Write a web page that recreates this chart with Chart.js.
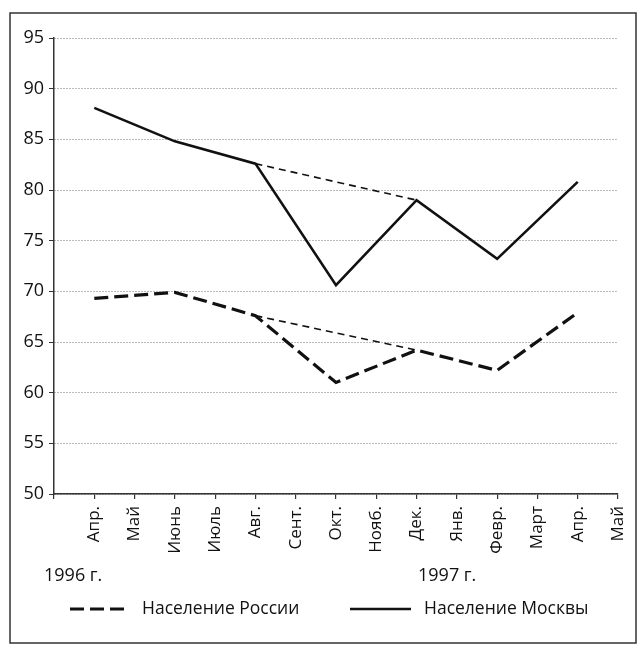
<!DOCTYPE html>
<html>
<head>
<meta charset="utf-8">
<script src="https://cdn.jsdelivr.net/npm/chart.js@4"></script>
<style>
  html, body { margin: 0; padding: 0; background: #fff; }
  #wrap { width: 638px; height: 649px; position: relative; }
</style>
</head>
<body>
<div id="wrap"><canvas id="chart" width="638" height="649"></canvas></div>
<script>
// месяцы по оси X (апрель 1996 - май 1997)
const months = ['Апр.', 'Май', 'Июнь', 'Июль', 'Авг.', 'Сент.', 'Окт.', 'Нояб.', 'Дек.', 'Янв.', 'Февр.', 'Март', 'Апр.', 'Май'];
// номера месяцев, где есть замеры
const pointMonths = [0, 2, 4, 6, 8, 10, 12];
const moscow = [88.1, 84.8, 82.6, 70.6, 79.0, 73.2, 80.8];
const russia = [69.3, 69.9, 67.6, 61.0, 64.2, 62.2, 67.9];
// тренд без провала: авг. -> дек.
const trendFrom = 2, trendTo = 4;
const yTicks = [50, 55, 60, 65, 70, 75, 80, 85, 90, 95];
const yearLabels = ['1996 г.', '1997 г.'];
const legendLabels = ['Население России', 'Население Москвы'];

const FONT = "'Open Sans', 'DejaVu Sans', sans-serif";
const INK = '#111';

const toPoints = vals => vals.map((v, i) => ({ x: pointMonths[i], y: v }));
const trend = vals => [trendFrom, trendTo].map(i => ({ x: pointMonths[i], y: vals[i] }));

const extras = {
  id: 'extras',
  afterDraw(chart) {
    const ctx = chart.ctx;
    ctx.save();
    // рамка
    ctx.strokeStyle = '#333';
    ctx.lineWidth = 1.5;
    ctx.strokeRect(10, 13, 626, 630);

    ctx.fillStyle = INK;
    ctx.font = '18px ' + FONT;
    ctx.textBaseline = 'alphabetic';
    ctx.textAlign = 'left';
    ctx.fillText(yearLabels[0], 44, 581);
    ctx.fillText(yearLabels[1], 418, 581);

    // легенда
    const ly = 609;
    ctx.font = '17.5px ' + FONT;
    const items = [
      { ds: chart.data.datasets[1], x0: 70, x1: 130, tx: 142, text: legendLabels[0] },
      { ds: chart.data.datasets[0], x0: 350, x1: 411, tx: 424, text: legendLabels[1] }
    ];
    items.forEach(it => {
      ctx.beginPath();
      ctx.strokeStyle = it.ds.borderColor;
      ctx.lineWidth = it.ds.borderWidth;
      ctx.setLineDash(it.ds.borderDash || []);
      ctx.moveTo(it.x0, ly);
      ctx.lineTo(it.x1, ly);
      ctx.stroke();
      ctx.setLineDash([]);
      ctx.textBaseline = 'middle';
      ctx.fillText(it.text, it.tx, ly);
    });
    ctx.restore();
  }
};

new Chart(document.getElementById('chart').getContext('2d'), {
  type: 'line',
  data: {
    datasets: [
      {
        label: legendLabels[1],
        data: toPoints(moscow),
        borderColor: INK,
        borderWidth: 2.6,
        borderDash: [],
        pointRadius: 0,
        tension: 0
      },
      {
        label: legendLabels[0],
        data: toPoints(russia),
        borderColor: INK,
        borderWidth: 3.2,
        borderDash: [14, 6],
        pointRadius: 0,
        tension: 0
      },
      {
        label: 'trend1',
        data: trend(moscow),
        borderColor: INK,
        borderWidth: 1.6,
        borderDash: [7, 5],
        pointRadius: 0
      },
      {
        label: 'trend2',
        data: trend(russia),
        borderColor: INK,
        borderWidth: 1.6,
        borderDash: [7, 5],
        pointRadius: 0
      }
    ]
  },
  options: {
    responsive: false,
    animation: false,
    layout: { padding: { left: 10, top: 38, right: 20, bottom: 85 } },
    plugins: {
      legend: { display: false },
      tooltip: { enabled: false }
    },
    scales: {
      x: {
        type: 'linear',
        min: -1,
        max: 13,
        afterBuildTicks: s => { s.ticks = months.map((m, i) => ({ value: i })).concat([{ value: -1 }]); },
        afterFit: s => { s.height = 70; },
        ticks: {
          autoSkip: false,
          maxRotation: 90,
          minRotation: 90,
          padding: 7,
          color: INK,
          font: { family: FONT, size: 17 },
          callback: v => months[v] || ''
        },
        grid: { drawOnChartArea: false, tickLength: 5, color: '#333', lineWidth: 1.2 },
        border: { color: '#333', width: 1.5 }
      },
      y: {
        min: 50,
        max: 95,
        afterBuildTicks: s => { s.ticks = yTicks.map(v => ({ value: v })); },
        afterFit: s => { s.width = 44; },
        ticks: {
          padding: 5,
          color: INK,
          font: { family: FONT, size: 18 }
        },
        grid: {
          color: '#777',
          lineWidth: 1,
          tickLength: 5,
          tickColor: '#333',
          tickBorderDash: []
        },
        border: { color: '#333', width: 1.5, dash: [1, 2] }
      }
    }
  },
  plugins: [extras]
});
</script>
</body>
</html>
